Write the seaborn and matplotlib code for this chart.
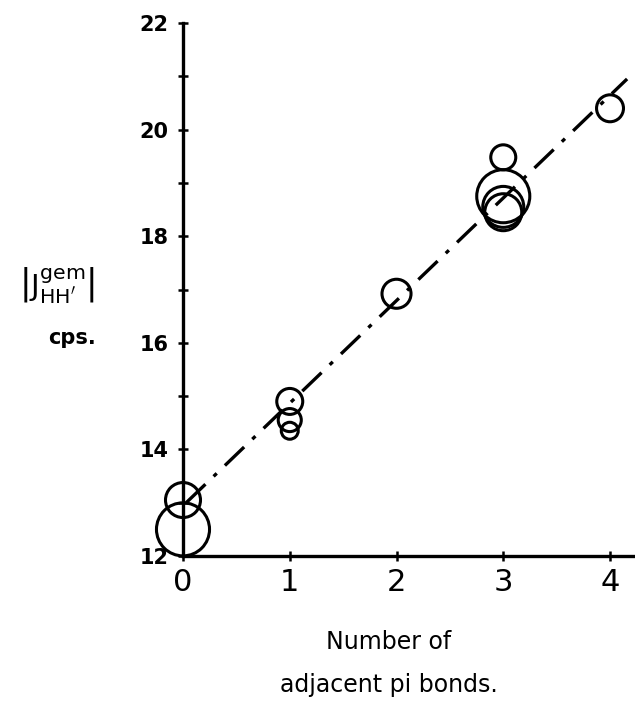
import matplotlib
matplotlib.use("Agg")
import matplotlib.pyplot as plt
import seaborn as sns
import pandas as pd
import numpy as np

# ---- data ----
pi_bonds = [0, 0, 1, 1, 1, 2, 3, 3, 3, 3, 4]
coupling = [12.5, 13.05, 14.9, 14.55, 14.35, 16.92, 19.48, 18.75, 18.55, 18.45, 20.4]
circle_diam_pt = [38.2, 25.2, 18.7, 16.6, 12.2, 20.9, 18.0, 38.2, 29.5, 26.6, 19.4]

fit_x = [0.03, 4.16]
fit_y = [13.0, 20.95]

x_ticks = [0, 1, 2, 3, 4]
y_major = [12, 14, 16, 18, 20, 22]
y_minor = [13, 15, 17, 19, 21]

sns.set_theme(style="ticks")
plt.rcParams["font.family"] = ["DejaVu Sans"]
plt.rcParams["mathtext.fontset"] = "dejavusans"

fig = plt.figure(figsize=(6.35, 7.03), dpi=100)
ax = fig.add_axes([183 / 635, (703 - 556) / 703, (635 - 183) / 635, (556 - 23) / 703])

df = pd.DataFrame({"x": pi_bonds, "y": coupling,
                   "area": [d ** 2 for d in circle_diam_pt]})
sizes = {v: v for v in df["area"].unique()}

sns.lineplot(x=fit_x, y=fit_y, ax=ax, color="black", linewidth=2.4,
             dashes=False, zorder=2)
line = ax.lines[-1]
line.set_dashes((8, 3.4, 1.3, 3.4))
line.set_solid_capstyle("butt")

sns.scatterplot(data=df, x="x", y="y", size="area", sizes=sizes, legend=False,
                marker="o", ax=ax, zorder=3, clip_on=False)
coll = ax.collections[-1]
coll.set_facecolor("none")
coll.set_edgecolor("black")
coll.set_linewidth(2.2)
coll.set_clip_on(False)

ax.set_xlim(0, 4.234)
ax.set_ylim(12, 22)
ax.set_xticks(x_ticks)
ax.set_xticklabels([str(t) for t in x_ticks], fontsize=22)
ax.set_yticks(y_major)
ax.set_yticklabels([str(t) for t in y_major], fontsize=15, fontweight="bold")
ax.set_yticks(y_minor, minor=True)

for s in ["top", "right"]:
    ax.spines[s].set_visible(False)
for s in ["left", "bottom"]:
    ax.spines[s].set_linewidth(2.4)
    ax.spines[s].set_color("black")

ax.tick_params(axis="both", which="both", direction="inout", length=7,
               width=1.8, color="black", labelcolor="black",
               bottom=True, left=True, top=False, right=False)
ax.tick_params(axis="x", pad=5)
ax.tick_params(axis="y", pad=7)
ax.set_xlabel("")
ax.set_ylabel("")

fig.text(57 / 635, 1 - 285 / 703,
         r"$\left|\mathrm{J}^{\mathrm{gem}}_{\mathrm{HH'}}\right|$",
         ha="center", va="center", fontsize=21, color="black")
fig.text(72 / 635, 1 - 338 / 703, "cps.", ha="center", va="center",
         fontsize=15, fontweight="bold", color="black")
fig.text(389 / 635, 1 - 642 / 703, "Number of", ha="center", va="center",
         fontsize=17, color="black")
fig.text(389 / 635, 1 - 685 / 703, "adjacent pi bonds.", ha="center",
         va="center", fontsize=17, color="black")

fig.savefig("out.png", dpi=100, facecolor="white")
